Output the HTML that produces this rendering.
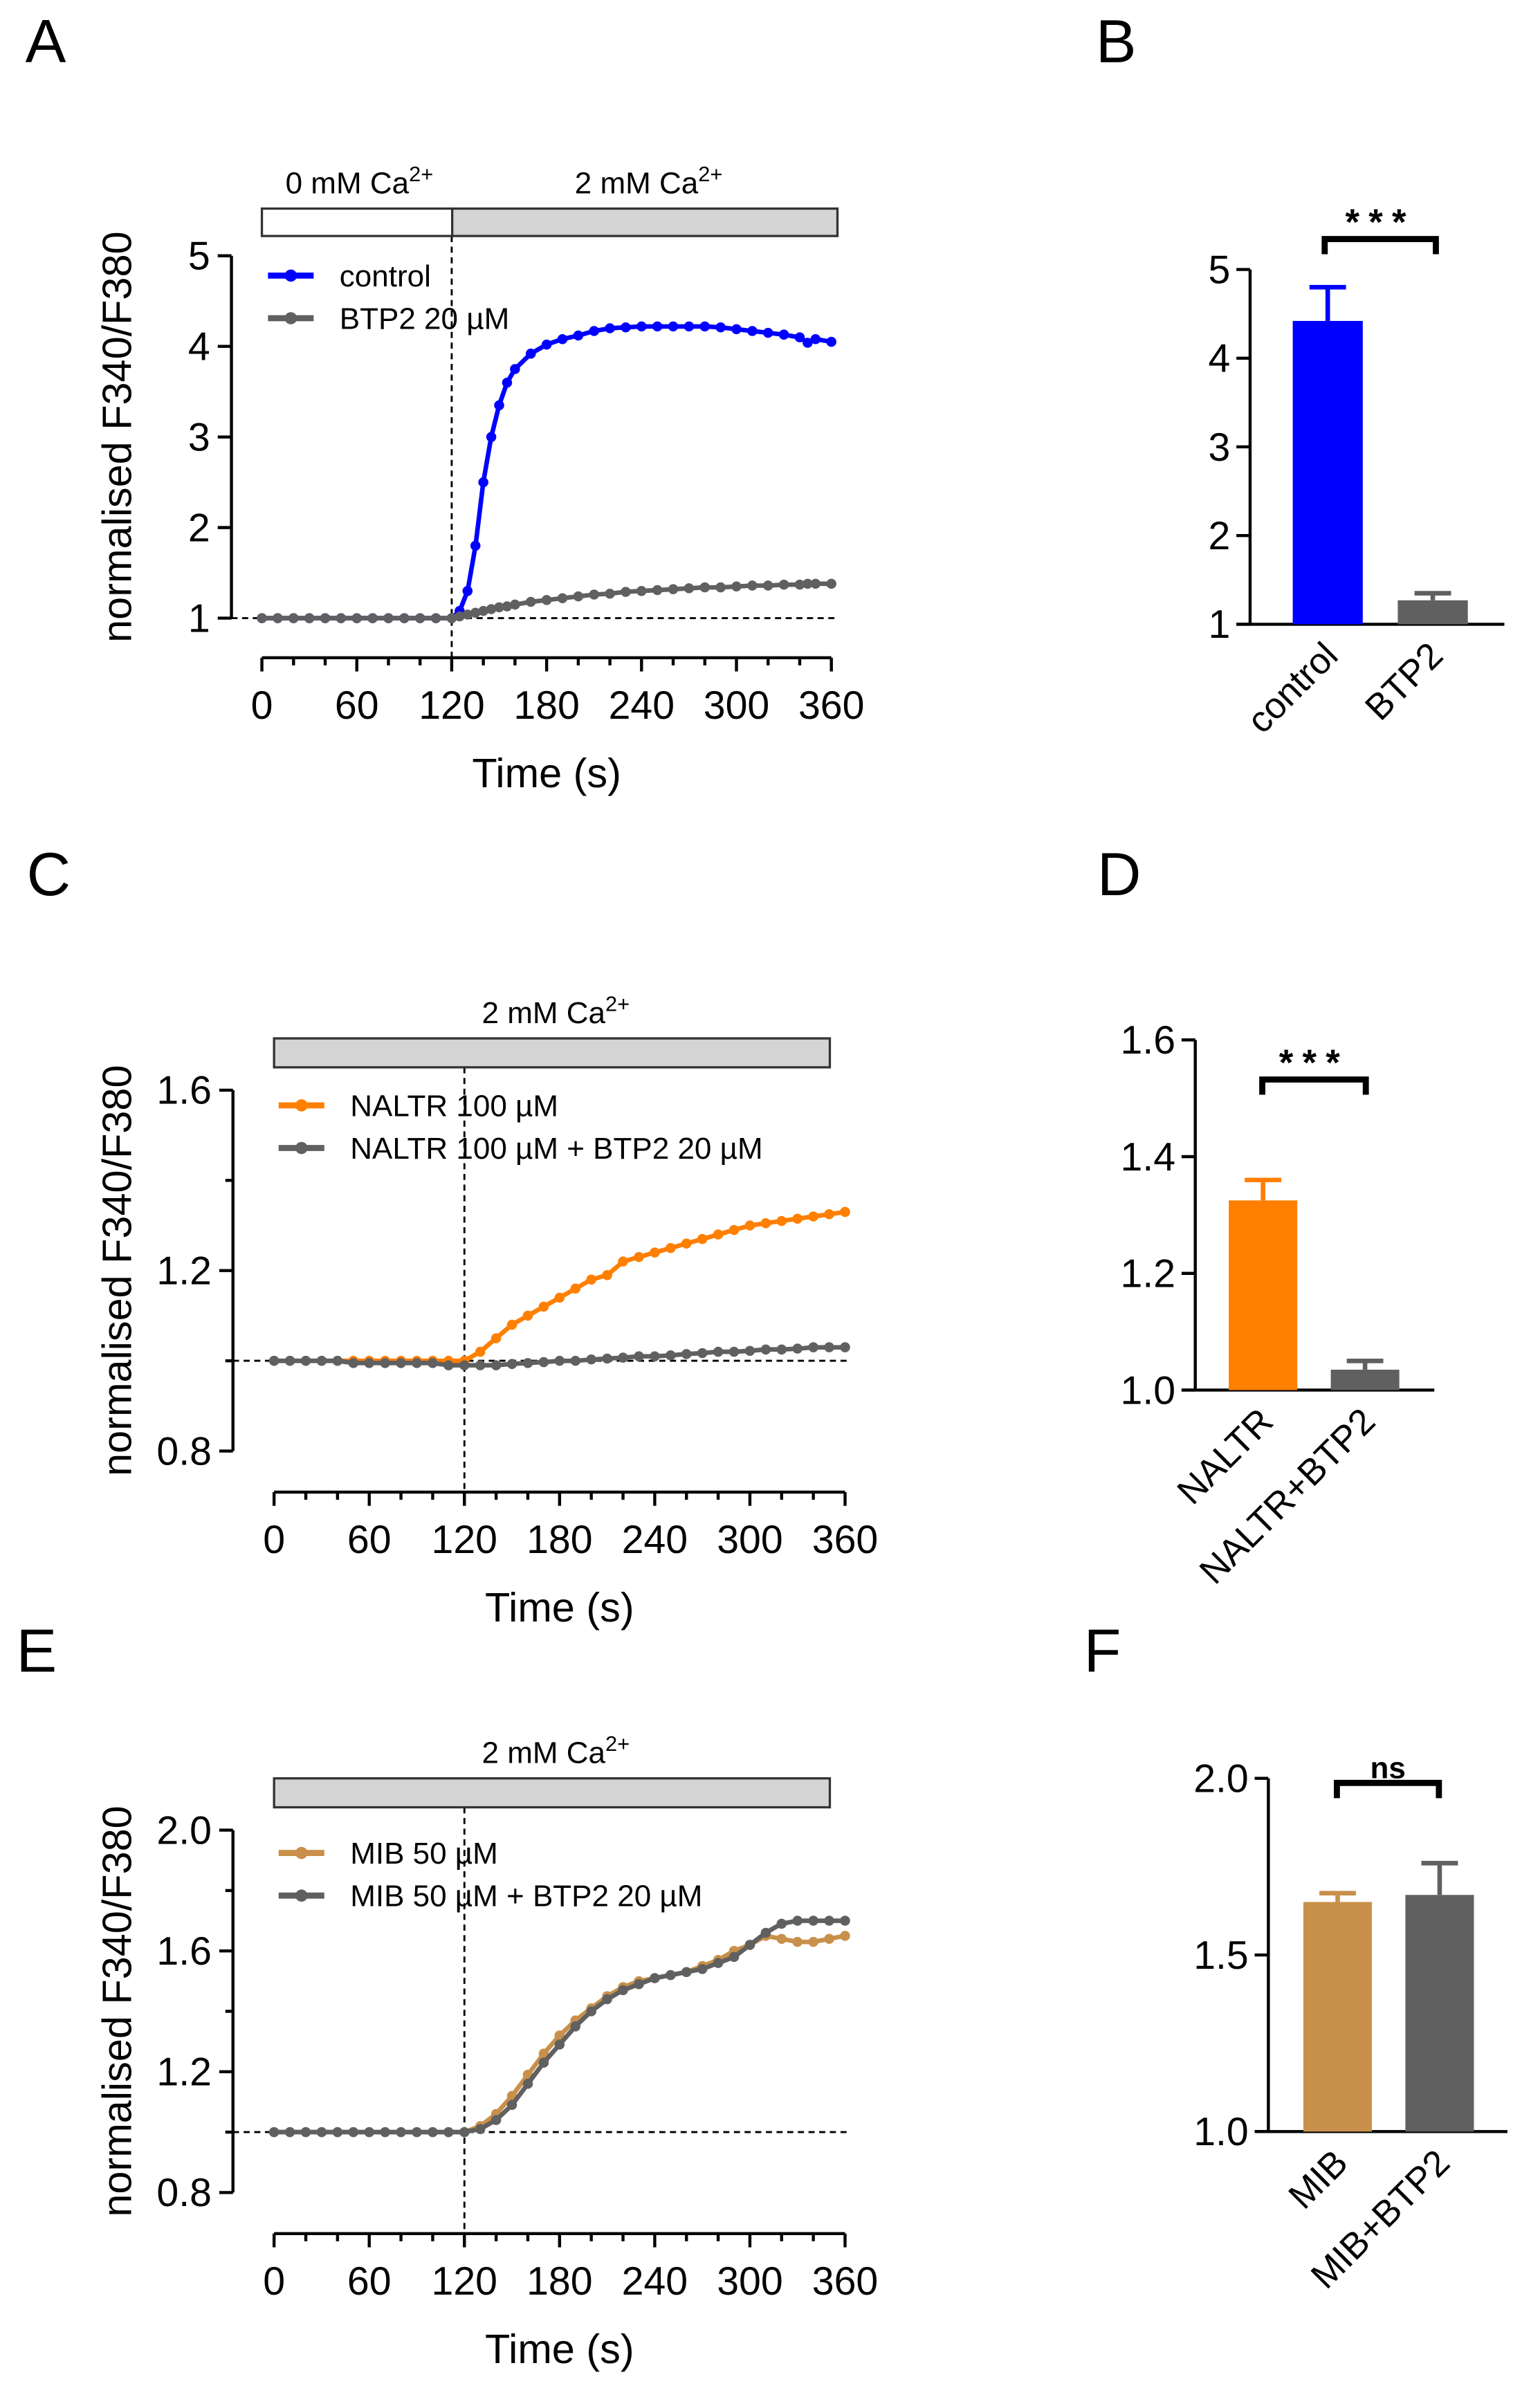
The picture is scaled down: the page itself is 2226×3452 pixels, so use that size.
<!DOCTYPE html>
<html><head><meta charset="utf-8"><style>
html,body{margin:0;padding:0;background:#fff}
svg{display:block}
text{font-family:"Liberation Sans",Arial,sans-serif;fill:#000}
</style></head><body>
<svg id="fig" width="2226" height="3452" viewBox="0 0 1011.4 1568.4" preserveAspectRatio="none" xmlns="http://www.w3.org/2000/svg">
<g id="root"></g>
</svg>
<script>
// ---------- Panel A data ----------
const timeA = [0,10,20,30,40,50,60,70,80,90,100,110,120,125,130,135,140,145,150,155,160,170,180,190,200,210,220,230,240,250,260,270,280,290,300,310,320,330,340,345,350,360];
const controlA = [1,1,1,1,1,1,1,1,1,1,1,1,1.0,1.08,1.3,1.8,2.5,3.0,3.35,3.6,3.75,3.92,4.02,4.08,4.12,4.17,4.2,4.21,4.22,4.22,4.22,4.22,4.22,4.21,4.19,4.17,4.15,4.13,4.1,4.04,4.08,4.05];
const btp2A = [1,1,1,1,1,1,1,1,1,1,1,1,1.0,1.02,1.04,1.06,1.08,1.1,1.12,1.13,1.15,1.18,1.2,1.22,1.24,1.26,1.27,1.29,1.3,1.31,1.32,1.33,1.34,1.34,1.35,1.36,1.36,1.37,1.37,1.38,1.38,1.38];
// ---------- Panel C data ----------
const timeC = [0,10,20,30,40,50,60,70,80,90,100,110,120,130,140,150,160,170,180,190,200,210,220,230,240,250,260,270,280,290,300,310,320,330,340,350,360];
const naltrC = [1,1,1,1,1,1,1,1,1,1,1,1,1.0,1.02,1.05,1.08,1.1,1.12,1.14,1.16,1.18,1.19,1.22,1.23,1.24,1.25,1.26,1.27,1.28,1.29,1.3,1.305,1.31,1.315,1.32,1.325,1.33];
const naltrBtpC = [1,1,1,1,1,0.995,0.995,0.995,0.995,0.995,0.995,0.99,0.99,0.99,0.99,0.993,0.995,0.997,1.0,1.0,1.003,1.005,1.007,1.01,1.01,1.012,1.015,1.017,1.02,1.02,1.022,1.025,1.025,1.027,1.03,1.03,1.03];
// ---------- Panel E data ----------
const timeE = [0,10,20,30,40,50,60,70,80,90,100,110,120,130,140,150,160,170,180,190,200,210,220,230,240,250,260,270,280,290,300,310,320,330,340,350,360];
const mibE = [1,1,1,1,1,1,1,1,1,1,1,1,1.0,1.02,1.06,1.12,1.19,1.26,1.32,1.37,1.41,1.45,1.48,1.5,1.51,1.52,1.53,1.55,1.57,1.6,1.62,1.65,1.64,1.63,1.63,1.64,1.65];
const mibBtpE = [1,1,1,1,1,1,1,1,1,1,1,1,1.0,1.01,1.04,1.09,1.16,1.23,1.29,1.35,1.4,1.44,1.47,1.49,1.51,1.52,1.53,1.54,1.56,1.58,1.62,1.66,1.69,1.7,1.7,1.7,1.7];
// ---------- Bar data ----------
const barCatsB = ["control","BTP2"], barValsB = [4.42,1.27], barErrB = [0.38,0.08];
const barCatsD = ["NALTR","NALTR+BTP2"], barValsD = [1.325,1.035], barErrD = [0.035,0.015];
const barCatsF = ["MIB","MIB+BTP2"], barValsF = [1.65,1.67], barErrF = [0.025,0.09];
const xTicks = [0,60,120,180,240,300,360];
const yTicksA = [1,2,3,4,5], yTicksC = [0.8,1.2,1.6], yTicksE = [0.8,1.2,1.6,2.0];
const yTicksB = [1,2,3,4,5], yTicksD = [1.0,1.2,1.4,1.6], yTicksF = [1.0,1.5,2.0];

const NS="http://www.w3.org/2000/svg";
const root=document.getElementById('root');
function mk(tag,attrs,parent){const e=document.createElementNS(NS,tag);for(const k in attrs)e.setAttribute(k,attrs[k]);(parent||root).appendChild(e);return e;}
function txt(x,y,s,size,anchor,parent,extra){const t=mk('text',Object.assign({x:x,y:y,'font-size':size,'text-anchor':anchor||'middle'},extra||{}),parent);t.textContent=s;return t;}

function linePanel(o){
  const g=mk('g',{});
  
  
  const sx=v=>o.x0+(v-0)/360*(o.x1-o.x0);
  const sy=v=>o.yb-(v-o.ymin)/(o.ymax-o.ymin)*(o.yb-o.yt);
  const ya=mk('line',{x1:o.yAxisX,x2:o.yAxisX,y1:o.yt,y2:o.yb,stroke:'#000','stroke-width':2},g);
  
  o.yTicks.forEach(v=>{mk('line',{x1:o.yAxisX-9,x2:o.yAxisX,y1:sy(v),y2:sy(v),stroke:'#000','stroke-width':2},g);
    const t=txt(o.yAxisX-14,sy(v)+9,o.fmt(v),26,'end',g);});
  (o.yMinor||[]).forEach(v=>mk('line',{x1:o.yAxisX-5,x2:o.yAxisX,y1:sy(v),y2:sy(v),stroke:'#000','stroke-width':2},g));
  const xa=mk('line',{x1:sx(0),x2:sx(360),y1:o.xAxisY,y2:o.xAxisY,stroke:'#000','stroke-width':2},g);
  
  for(let v=0;v<=360;v+=20){const major=xTicks.includes(v);mk('line',{x1:sx(v),x2:sx(v),y1:o.xAxisY,y2:o.xAxisY+(major?9:5),stroke:'#000','stroke-width':2},g);}
  xTicks.forEach(v=>{const t=txt(sx(v),o.xAxisY+40,String(v),26,'middle',g);});
  const xt=txt((sx(0)+sx(360))/2,o.xAxisY+85,'Time (s)',27,'middle',g);
  
  const yt=txt(0,0,'normalised F340/F380',27,'middle',g,{transform:`translate(${o.titleX},${(o.yt+o.yb)/2}) rotate(-90)`});
  
  mk('line',{x1:o.yAxisX,x2:sx(360)+4,y1:sy(1),y2:sy(1),stroke:'#000','stroke-width':1.3,'stroke-dasharray':'4,3'},g);
  mk('line',{x1:sx(120),x2:sx(120),y1:o.barY+o.barH,y2:o.xAxisY,stroke:'#000','stroke-width':1.3,'stroke-dasharray':'4,3'},g);
  o.barSegs.forEach(s=>{const r=mk('rect',{x:s[0],y:o.barY,width:s[1]-s[0],height:o.barH,fill:s[2],stroke:'#333','stroke-width':1.5},g);
    });
  o.barLabels.forEach(l=>{const t=mk('text',{x:l[0],y:o.barY-10,'font-size':20,'text-anchor':'middle'},g);
    t.innerHTML=l[1]+'<tspan dy="-8" font-size="14">2+</tspan>';});
  o.series.forEach((s,i)=>{
    const sg=mk('g',{},g);
    
    
    const d=s.t.map((t,j)=>(j?'L':'M')+sx(t).toFixed(1)+','+sy(s.v[j]).toFixed(1)).join(' ');
    mk('path',{d:d,fill:'none',stroke:s.c,'stroke-width':3},sg);
    s.t.forEach((t,j)=>mk('circle',{cx:sx(t),cy:sy(s.v[j]),r:3.3,fill:s.c},sg));
    const ly=o.legY+i*28;
    const lg=mk('g',{},g);
    
    
    mk('line',{x1:o.legX,x2:o.legX+30,y1:ly,y2:ly,stroke:s.c,'stroke-width':4},lg);
    mk('circle',{cx:o.legX+15,cy:ly,r:4,fill:s.c},lg);
    const lt=mk('text',{x:o.legX+47,y:ly+7,'font-size':20},lg);lt.innerHTML=s.label;
  });
}

function barPanel(o){
  const g=mk('g',{});
  
  
  const sy=v=>o.yb-(v-o.ymin)/(o.ymax-o.ymin)*(o.yb-o.yt);
  const ya=mk('line',{x1:o.ax,x2:o.ax,y1:o.yt,y2:o.yb,stroke:'#000','stroke-width':2},g);
  
  const xa=mk('line',{x1:o.ax-9,x2:o.axEnd,y1:o.yb,y2:o.yb,stroke:'#000','stroke-width':2},g);
  
  o.yTicks.forEach(v=>{mk('line',{x1:o.ax-9,x2:o.ax,y1:sy(v),y2:sy(v),stroke:'#000','stroke-width':2},g);
    const t=txt(o.ax-13,sy(v)+9,o.fmt(v),26,'end',g);});
  o.cats.forEach((c,i)=>{
    const x=o.bx[i];
    const b=mk('rect',{x:x,y:sy(o.vals[i]),width:o.bw,height:o.yb-sy(o.vals[i]),fill:o.colors[i]},g);
    
    
    const cx=x+o.bw/2, top=sy(o.vals[i]+o.errs[i]);
    mk('line',{x1:cx,x2:cx,y1:sy(o.vals[i]),y2:top,stroke:o.colors[i],'stroke-width':3},g);
    mk('line',{x1:cx-12,x2:cx+12,y1:top,y2:top,stroke:o.colors[i],'stroke-width':3},g);
    const t=txt(0,0,c,24,'end',g,{transform:`translate(${cx+8},${o.yb+22}) rotate(-45)`});
    
  });
  const br=mk('path',{d:`M${o.br[0]},${o.br[2]+10} V${o.br[2]} H${o.br[1]} V${o.br[2]+10}`,fill:'none',stroke:'#000','stroke-width':4},g);
  
  const st=txt((o.br[0]+o.br[1])/2,o.br[2]-3,o.sig,o.sig==='ns'?20:24,'middle',g,{'font-weight':'bold','letter-spacing':o.sig==='ns'?0:6});
  
}

function panelLabel(x,y,s){const t=txt(x,y,s,40,'middle');}
panelLabel(30,41,'A');panelLabel(733,41,'B');panelLabel(32,588,'C');panelLabel(735,588,'D');panelLabel(24,1098,'E');panelLabel(724,1098,'F');

linePanel({name:'panel-a-chart',x0:172,x1:546,yb:406,yt:168,ymin:1,ymax:5,yAxisX:152,xAxisY:432,titleX:86,
  yTicks:yTicksA,fmt:v=>String(v),yMinor:[],barY:137,barH:18,
  barSegs:[[172,297,'#fff'],[297,550,'#d4d4d4']],barLabels:[[236,'0 mM Ca'],[426,'2 mM Ca']],
  legX:176,legY:181,
  series:[{id:'control',t:timeA,v:controlA,c:'#0000ff',label:'control'},{id:'btp2',t:timeA,v:btp2A,c:'#606060',label:'BTP2 20 µM'}]});
linePanel({name:'panel-c-chart',x0:180,x1:555,yb:953,yt:716,ymin:0.8,ymax:1.6,yAxisX:153,xAxisY:980,titleX:86,
  yTicks:yTicksC,fmt:v=>v.toFixed(1),yMinor:[1.0,1.4],barY:682,barH:19,
  barSegs:[[180,545,'#d4d4d4']],barLabels:[[365,'2 mM Ca']],
  legX:183,legY:726,
  series:[{id:'naltr',t:timeC,v:naltrC,c:'#ff7f00',label:'NALTR 100 µM'},{id:'naltr-btp2',t:timeC,v:naltrBtpC,c:'#606060',label:'NALTR 100 µM + BTP2 20 µM'}]});
linePanel({name:'panel-e-chart',x0:180,x1:555,yb:1440,yt:1202,ymin:0.8,ymax:2.0,yAxisX:153,xAxisY:1467,titleX:86,
  yTicks:yTicksE,fmt:v=>v.toFixed(1),yMinor:[1.0,1.4,1.8],barY:1168,barH:19,
  barSegs:[[180,545,'#d4d4d4']],barLabels:[[365,'2 mM Ca']],
  legX:183,legY:1217,
  series:[{id:'mib-btp2',t:timeE,v:mibBtpE,c:'#606060',label:'MIB 50 µM + BTP2 20 µM'},{id:'mib',t:timeE,v:mibE,c:'#c8904a',label:'MIB 50 µM'}].reverse()});

barPanel({name:'panel-b-chart',ax:821,axEnd:988,yb:410,yt:177,ymin:1,ymax:5,yTicks:yTicksB,fmt:v=>String(v),
  cats:barCatsB,vals:barValsB,errs:barErrB,colors:['#0000ff','#606060'],bx:[849,918],bw:46,br:[870,943,157],sig:'***'});
barPanel({name:'panel-d-chart',ax:785,axEnd:942,yb:913,yt:683,ymin:1.0,ymax:1.6,yTicks:yTicksD,fmt:v=>v.toFixed(1),
  cats:barCatsD,vals:barValsD,errs:barErrD,colors:['#ff7f00','#606060'],bx:[807,874],bw:45,br:[829,897,709],sig:'***'});
barPanel({name:'panel-f-chart',ax:833,axEnd:990,yb:1400,yt:1168,ymin:1.0,ymax:2.0,yTicks:yTicksF,fmt:v=>v.toFixed(1),
  cats:barCatsF,vals:barValsF,errs:barErrF,colors:['#c8904a','#606060'],bx:[856,923],bw:45,br:[878,945,1171],sig:'ns'});
</script>
</body></html>
